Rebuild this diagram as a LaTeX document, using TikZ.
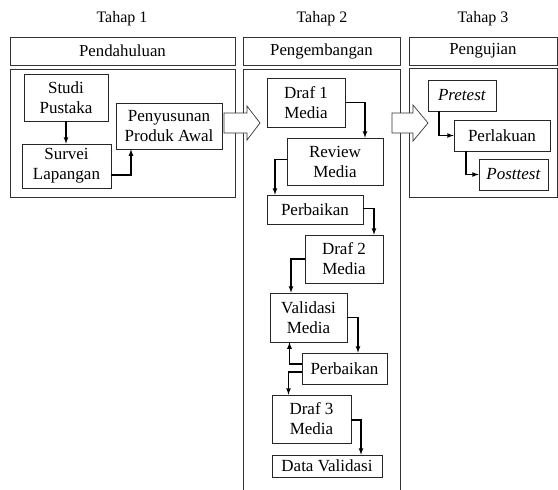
\documentclass[tikz,border=0pt]{standalone}
\usepackage{fontspec}
\setmainfont{Liberation Serif}
\begin{document}
\begin{tikzpicture}[x=1pt,y=-1pt]
        \tikzstyle{frame}=[draw=black!80,line width=0.7pt,inner sep=0pt,font=\fontsize{16.8}{19}\selectfont]
        \tikzstyle{step box}=[draw=black!85,line width=0.7pt,fill=white,align=center,inner sep=0pt,font=\fontsize{17}{20}\selectfont]
        \tikzstyle{title}=[font=\fontsize{16}{18}\selectfont]
        \tikzstyle{edge}=[draw,line width=1.2pt,-latex]
        \tikzstyle{bigarrow}=[draw=black!80,line width=0.7pt,fill=white]
        \clip (0,0) rectangle (558,490);
        % judul tahap
        \node [title] (t1) at (122,19) {Tahap 1};
        \node [title] (t2) at (322,19) {Tahap 2};
        \node [title] (t3) at (483,19) {Tahap 3};
        % kolom
        \node [frame,minimum width=225,minimum height=28] (head1) at (122.5,51) {Pendahuluan};
        \node [frame,minimum width=225,minimum height=128] (body1) at (122.5,133) {};
        \node [frame,minimum width=157,minimum height=28] (head2) at (321.5,51) {Pengembangan};
        \node [frame,minimum width=157,minimum height=432] (body2) at (321.5,285) {};
        \node [frame,minimum width=148,minimum height=28] (head3) at (483,51) {Pengujian};
        \node [frame,minimum width=148,minimum height=129] (body3) at (483,132.5) {};
        % panah besar
        \draw [bigarrow] (224,113) -- (247,113) -- (247,106) -- (260,123) -- (247,140) -- (247,133) -- (224,133) -- cycle;
        \draw [bigarrow] (392,113) -- (413,113) -- (413,105) -- (428,123) -- (413,141) -- (413,133) -- (392,133) -- cycle;
        % tahap 1
        \node [step box,minimum width=84,minimum height=47] (studi) at (66,97.5) {Studi\\Pustaka};
        \node [step box,minimum width=89,minimum height=44] (survei) at (66.5,166) {Survei\\Lapangan};
        \node [step box,minimum width=106,minimum height=46] (awal) at (169,126) {Penyusunan\\Produk Awal};
        \draw [edge] (studi.south) -- (studi.south |- survei.north);
        \draw [edge] ([yshift=-9pt]survei.east) -| ([xshift=-38pt]awal.south);
        % tahap 2
        \node [step box,minimum width=78,minimum height=49] (draf1) at (306,102.5) {Draf 1\\Media};
        \node [step box,minimum width=96,minimum height=47] (review) at (335,161.5) {Review\\Media};
        \node [step box,minimum width=96,minimum height=29] (perb1) at (315,209.5) {Perbaikan};
        \node [step box,minimum width=78,minimum height=48] (draf2) at (344,259) {Draf 2\\Media};
        \node [step box,minimum width=77,minimum height=49] (valid) at (308.5,317.5) {Validasi\\Media};
        \node [step box,minimum width=85,minimum height=31] (perb2) at (344.5,368.5) {Perbaikan};
        \node [step box,minimum width=79,minimum height=48] (draf3) at (311.5,419) {Draf 3\\Media};
        \node [step box,minimum width=110,minimum height=22] (datav) at (327,466) {Data Validasi};
        \draw [edge] (draf1.east) -| ([xshift=30pt]review.north);
        \draw [edge] ([yshift=2pt]review.west) -| ([xshift=-40pt]perb1.north);
        \draw [edge] ([yshift=1pt]perb1.east) -| ([xshift=30pt]draf2.north);
        \draw [edge] (draf2.west) -| ([xshift=-17.5pt]valid.north);
        \draw [edge] (valid.east) -| ([xshift=13.5pt]perb2.north);
        \draw [edge] ([yshift=4.5pt]perb2.west) -| ([xshift=-19pt]valid.south);
        \draw [edge] ([yshift=-3.5pt]perb2.west) -| ([xshift=-23pt]draf3.north);
        \draw [edge] ([yshift=-1pt]draf3.east) -| ([xshift=34pt]datav.north);
        % tahap 3
        \node [step box,minimum width=68,minimum height=31] (pre) at (462,95.5) {\textit{Pretest}};
        \node [step box,minimum width=96,minimum height=31] (treat) at (502,135.5) {Perlakuan};
        \node [step box,minimum width=69,minimum height=31] (post) at (513.5,174.5) {\textit{Posttest}};
        \draw [edge] ([xshift=-23pt]pre.south) |- (treat.west);
        \draw [edge] ([xshift=-36pt]treat.south) |- (post.west);
\end{tikzpicture}
\end{document}
